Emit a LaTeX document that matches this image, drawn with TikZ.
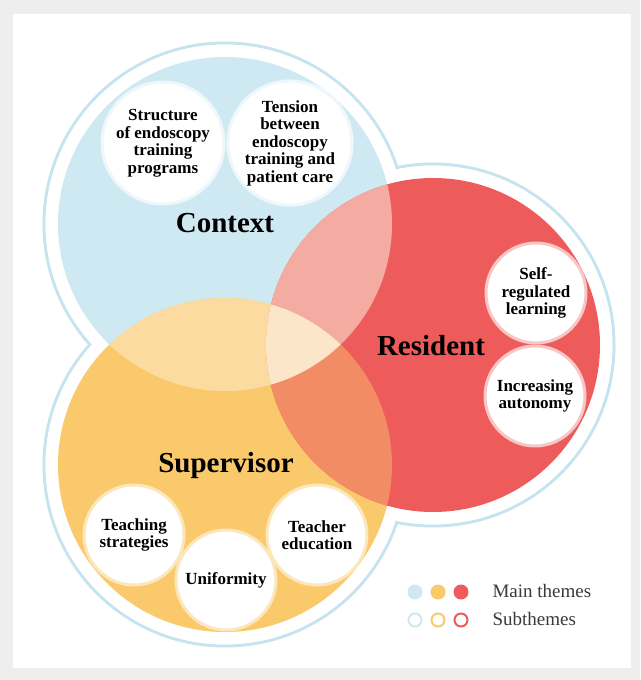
\documentclass[tikz,border=0pt]{standalone}
\usepackage{fontspec}
\setmainfont{Liberation Serif}
\definecolor{ctxblue}{HTML}{CFE9F3}
\definecolor{supyellow}{HTML}{F9C96B}
\definecolor{resred}{HTML}{EE5B5B}
\definecolor{lenspink}{HTML}{F4ABA2}
\definecolor{lensyellow}{HTML}{FBDB9F}
\definecolor{lensorange}{HTML}{F28C64}
\definecolor{lenscore}{HTML}{FCE6CA}
\definecolor{ringblue}{HTML}{C6E4F0}
\definecolor{framegray}{HTML}{EEEEEE}
\definecolor{legendtext}{HTML}{3A3A3A}
\begin{document}
\begin{tikzpicture}[x=1pt,y=-1pt,
  theme/.style={circle,inner sep=0pt,outer sep=0pt,minimum size=334pt},
  sub/.style={circle,fill=white,draw=#1,line width=3pt,inner sep=0pt,
    minimum size=100pt,align=center,font=\bfseries\fontsize{17}{17.5}\selectfont},
  mainlabel/.style={font=\bfseries\fontsize{29}{30}\selectfont},
  legendlabel/.style={anchor=west,text=legendtext,font=\fontsize{19}{20}\selectfont}]
\useasboundingbox (0,0) rectangle (640,680);
\fill [framegray] (0,0) rectangle (640,680);
\fill [white] (13,14) rectangle (631,668);
% outer contour round the three themes
\foreach \cx/\cy in {225/224, 433/345, 225/465}
  \draw [ringblue,line width=3pt] (\cx,\cy) circle (181);
\foreach \cx/\cy in {225/224, 433/345, 225/465}
  \fill [white] (\cx,\cy) circle (179.4);
% main themes
\node [theme,fill=ctxblue] (ctx) at (225,224) {};
\node [theme,fill=supyellow] (sup) at (225,465) {};
\node [theme,fill=resred] (res) at (433,345) {};
% overlaps
\begin{scope}
\clip (225,224) circle (167);
\fill [lenspink] (433,345) circle (167);
\fill [lensyellow] (225,465) circle (167);
\end{scope}
\begin{scope}
\clip (433,345) circle (167);
\fill [lensorange] (225,465) circle (167);
\end{scope}
\begin{scope}
\clip (225,224) circle (167);
\clip (433,345) circle (167);
\fill [lenscore] (225,465) circle (167);
\end{scope}
% theme names
\node [mainlabel] (ctxname) at (225,223) {Context};
\node [mainlabel] (resname) at (431,346) {Resident};
\node [mainlabel] (supname) at (226,466) {Supervisor};
% subthemes
\node [sub=ctxblue!35!white,minimum size=122pt] (structure) at (163,143) {Structure\\of endoscopy\\training\\programs};
\node [sub=ctxblue!35!white,minimum size=122pt] (tension) at (290,143) {Tension\\between\\endoscopy\\training and\\patient care};
\node [sub=resred!35!white] (selfreg) at (536,293) {Self-\\regulated\\learning};
\node [sub=resred!35!white] (autonomy) at (535,396) {Increasing\\autonomy};
\node [sub=supyellow!45!white] (teaching) at (134,535) {Teaching\\strategies};
\node [sub=supyellow!45!white] (uniform) at (226,580) {Uniformity};
\node [sub=supyellow!45!white] (teacher) at (317,535) {Teacher\\education};
% legend
\fill [ctxblue] (415,592) circle (7.5);
\fill [supyellow] (438,592) circle (7.5);
\fill [resred] (461,592) circle (7.5);
\draw [ctxblue,line width=2pt] (415,620) circle (6.5);
\draw [supyellow,line width=2pt] (438,620) circle (6.5);
\draw [resred,line width=2pt] (461,620) circle (6.5);
\node [legendlabel] (mainkey) at (489,591) {Main themes};
\node [legendlabel] (subkey) at (489,619) {Subthemes};
\end{tikzpicture}
\end{document}
